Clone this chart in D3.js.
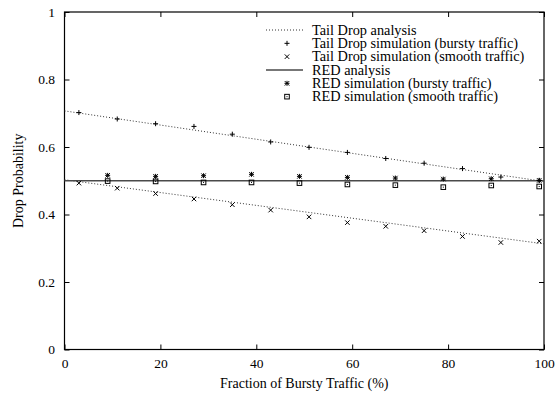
<!DOCTYPE html>
<html>
<head>
<meta charset="utf-8">
<script src="https://cdn.jsdelivr.net/npm/d3@7"></script>
<style>
  html, body { margin: 0; padding: 0; background: #fff; }
  svg { display: block; }
  svg text { font-family: "Liberation Serif", "Times New Roman", "DejaVu Serif", serif; fill: #000; }
</style>
</head>
<body>
<svg id="chart" width="555" height="393"></svg>
<script>
// Fraction of bursty traffic (%) and drop probabilities
const analysisX = [0, 50, 100];
const tailDropAnalysisBursty = [0.707, 0.602, 0.498];
const tailDropAnalysisSmooth = [0.503, 0.408, 0.313];
const redAnalysisX = [0, 100];
const redAnalysis = [0.5, 0.5];

const tailDropSimX = [3, 11, 19, 27, 35, 43, 51, 59, 67, 75, 83, 91, 99];
const tailDropSimBursty = [0.702, 0.683, 0.669, 0.661, 0.638, 0.615, 0.599, 0.584, 0.566, 0.552, 0.536, 0.511, 0.501];
const tailDropSimSmooth = [0.493, 0.478, 0.462, 0.446, 0.429, 0.413, 0.393, 0.376, 0.365, 0.352, 0.335, 0.317, 0.321];

const redSimX = [9, 19, 29, 39, 49, 59, 69, 79, 89, 99];
const redSimBursty = [0.516, 0.513, 0.515, 0.519, 0.513, 0.510, 0.508, 0.505, 0.506, 0.501];
const redSimSmooth = [0.499, 0.498, 0.495, 0.495, 0.493, 0.489, 0.487, 0.481, 0.486, 0.483];

const xTicks = [0, 20, 40, 60, 80, 100];
const yTicks = [0, 0.2, 0.4, 0.6, 0.8, 1];

const legendLabels = [
  "Tail Drop analysis",
  "Tail Drop simulation (bursty traffic)",
  "Tail Drop simulation (smooth traffic)",
  "RED analysis",
  "RED simulation (bursty traffic)",
  "RED simulation (smooth traffic)"
];

const svg = d3.select("#chart");
const plotLeft = 64.5, plotRight = 544, plotTop = 12, plotBottom = 349.5;

const x = d3.scaleLinear().domain([0, 100]).range([plotLeft, plotRight]);
const y = d3.scaleLinear().domain([0, 1]).range([plotBottom, plotTop]);

const fmtY = d => d === 0 ? "0" : d === 1 ? "1" : d3.format(".1f")(d);

// Axes with inward ticks on all four sides
const gBottom = svg.append("g").attr("transform", `translate(0,${plotBottom})`)
  .call(d3.axisBottom(x).tickValues(xTicks).tickSizeInner(-5).tickSizeOuter(0).tickPadding(8.5).tickFormat(d3.format("d")));
const gTop = svg.append("g").attr("transform", `translate(0,${plotTop})`)
  .call(d3.axisTop(x).tickValues(xTicks).tickSizeInner(-5).tickSizeOuter(0).tickFormat(""));
const gLeft = svg.append("g").attr("transform", `translate(${plotLeft},0)`)
  .call(d3.axisLeft(y).tickValues(yTicks).tickSizeInner(-5).tickSizeOuter(0).tickPadding(9.5).tickFormat(fmtY));
const gRight = svg.append("g").attr("transform", `translate(${plotRight},0)`)
  .call(d3.axisRight(y).tickValues(yTicks).tickSizeInner(-5).tickSizeOuter(0).tickFormat(""));

[gBottom, gTop, gLeft, gRight].forEach(g => {
  g.attr("font-family", null).attr("font-size", null);
  g.select(".domain").remove();
  g.selectAll(".tick line").attr("stroke", "#000").attr("stroke-width", 1);
  g.selectAll(".tick text").attr("fill", "#000").style("font-size", "13.5px");
});

// Plot frame
svg.append("rect")
  .attr("x", plotLeft).attr("y", plotTop)
  .attr("width", plotRight - plotLeft).attr("height", plotBottom - plotTop)
  .attr("fill", "none").attr("stroke", "#000").attr("stroke-width", 1.2);

// Axis titles
svg.append("text")
  .attr("x", (plotLeft + plotRight) / 2).attr("y", 388)
  .attr("text-anchor", "middle").style("font-size", "14px")
  .text("Fraction of Bursty Traffic (%)");
svg.append("text")
  .attr("transform", `translate(18,${(plotTop + plotBottom) / 2}) rotate(-90)`)
  .attr("text-anchor", "middle").attr("dominant-baseline", "central")
  .style("font-size", "14px")
  .text("Drop Probability");

const line = d3.line().x(d => x(d[0])).y(d => y(d[1]));
const zip = (xs, ys) => xs.map((v, i) => [v, ys[i]]);

const dotted = { stroke: "#333", width: 1, dash: "1,2" };
const solid = { stroke: "#4a4a4a", width: 1.3, dash: null };

function drawLine(data, st) {
  svg.append("path").datum(data)
    .attr("d", line).attr("fill", "none")
    .attr("stroke", st.stroke).attr("stroke-width", st.width)
    .attr("stroke-dasharray", st.dash);
}

drawLine(zip(analysisX, tailDropAnalysisBursty), dotted);
drawLine(zip(analysisX, tailDropAnalysisSmooth), dotted);
drawLine(zip(redAnalysisX, redAnalysis), solid);

// Point markers
const S = 2.5;
function plus(g, cx, cy) {
  g.append("path").attr("d", `M${cx - S},${cy}H${cx + S}M${cx},${cy - S}V${cy + S}`)
    .attr("stroke", "#000").attr("stroke-width", 1).attr("fill", "none");
}
function cross(g, cx, cy) {
  const s = S * 0.9;
  g.append("path").attr("d", `M${cx - s},${cy - s}L${cx + s},${cy + s}M${cx - s},${cy + s}L${cx + s},${cy - s}`)
    .attr("stroke", "#000").attr("stroke-width", 1).attr("fill", "none");
}
function star(g, cx, cy) { plus(g, cx, cy); cross(g, cx, cy); }
function box(g, cx, cy) {
  const s = 2.3;
  g.append("rect").attr("x", cx - s).attr("y", cy - s).attr("width", 2 * s).attr("height", 2 * s)
    .attr("fill", "none").attr("stroke", "#000").attr("stroke-width", 1);
  g.append("rect").attr("x", cx - 0.5).attr("y", cy - 0.5).attr("width", 1).attr("height", 1)
    .attr("fill", "#000");
}

const pts = svg.append("g");
function drawPoints(xs, ys, fn) {
  zip(xs, ys).forEach(d => fn(pts, x(d[0]), y(d[1])));
}
drawPoints(tailDropSimX, tailDropSimBursty, plus);
drawPoints(tailDropSimX, tailDropSimSmooth, cross);
drawPoints(redSimX, redSimBursty, star);
drawPoints(redSimX, redSimSmooth, box);

// Legend
const legend = svg.append("g");
const rowY = i => 30 + i * 13.33;
const sampleX0 = 266, sampleX1 = 303, markX = 287, textX = 312;
const legendKinds = [
  { line: dotted }, { mark: plus }, { mark: cross },
  { line: solid }, { mark: star }, { mark: box }
];
legendLabels.forEach((label, i) => {
  const cy = rowY(i);
  const k = legendKinds[i];
  if (k.line) {
    legend.append("line").attr("x1", sampleX0).attr("x2", sampleX1)
      .attr("y1", cy).attr("y2", cy)
      .attr("stroke", k.line.stroke).attr("stroke-width", k.line.width)
      .attr("stroke-dasharray", k.line.dash);
  } else {
    k.mark(legend, markX, cy);
  }
  legend.append("text").attr("x", textX).attr("y", cy + 4.8)
    .style("font-size", "14.3px")
    .text(label);
});
</script>
</body>
</html>
